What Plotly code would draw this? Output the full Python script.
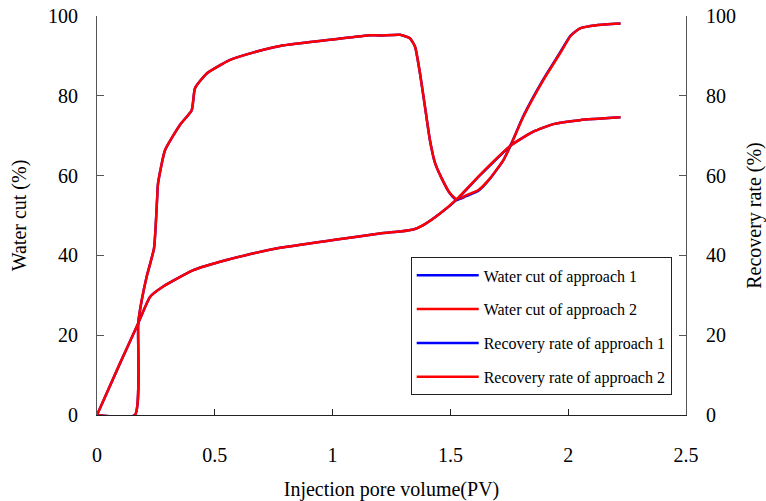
import plotly.graph_objects as go

# ---- data ----
wc_x = [0, 0.161, 0.175, 0.19, 0.211, 0.242, 0.255, 0.259, 0.289, 0.352, 0.402, 0.416,
        0.466, 0.565, 0.678, 0.777, 1.01, 1.16, 1.20, 1.286, 1.328, 1.35, 1.371, 1.392,
        1.413, 1.435, 1.463, 1.498, 1.527, 1.569, 1.619, 1.668, 1.725, 1.76, 1.81, 1.895,
        1.965, 2.01, 2.05, 2.12, 2.222]
wc_1 = [0, 0, 23, 28.8, 34.7, 41.8, 54, 58, 66.4, 72.7, 76.4, 81.9,
        85.6, 89.0, 91.1, 92.5, 94.2, 95.2, 95.1, 95.3, 94.4, 92.3, 85.6, 77.3,
        68.9, 63.1, 59.3, 55.5, 53.9, 54.9, 56.2, 59.2, 63.9, 68.2, 75.0, 84.2,
        90.8, 95.1, 96.9, 97.7, 98.1]
wc_2 = [0, 0, 23, 28.8, 34.7, 41.8, 54, 58, 66.4, 72.7, 76.4, 81.9,
        85.6, 89.0, 91.1, 92.5, 94.2, 95.2, 95.1, 95.3, 94.4, 92.3, 85.6, 77.3,
        68.9, 63.1, 59.3, 55.6, 54.1, 55.1, 56.4, 59.3, 63.9, 68.1, 74.8, 84.0,
        90.6, 95.0, 96.9, 97.7, 98.1]

rr_x = [0, 0.098, 0.175, 0.225, 0.281, 0.409, 0.522, 0.635, 0.777, 1.01, 1.20, 1.286,
        1.343, 1.385, 1.456, 1.527, 1.626, 1.76, 1.852, 1.937, 2.05, 2.222]
rr_1 = [0, 13, 23, 29.6, 32.2, 36.3, 38.4, 40.1, 41.9, 43.9, 45.5, 46.0,
        46.5, 47.6, 50.5, 54.0, 60.1, 67.7, 71.0, 72.9, 73.9, 74.6]
rr_2 = [0, 13, 23, 29.6, 32.2, 36.3, 38.4, 40.1, 41.9, 43.9, 45.5, 46.0,
        46.5, 47.6, 50.5, 54.1, 60.2, 67.7, 71.0, 72.9, 73.9, 74.6]

x_ticks = [0, 0.5, 1, 1.5, 2, 2.5]
y_ticks = [0, 20, 40, 60, 80, 100]

names = ["Water cut of approach 1", "Water cut of approach 2",
         "Recovery rate of approach 1", "Recovery rate of approach 2"]

FONT = "Liberation Serif, Times New Roman, serif"
BLUE = "#0000ff"
RED = "#ff0000"


def line(color):
    return dict(color=color, width=2.5, shape="spline", smoothing=0.5)


fig = go.Figure()
fig.add_trace(go.Scatter(x=wc_x, y=wc_1, mode="lines", name=names[0],
                         line=line(BLUE), legendgroup="a", legendrank=1))
fig.add_trace(go.Scatter(x=rr_x, y=rr_1, mode="lines", name=names[2], yaxis="y2",
                         line=line(BLUE), legendgroup="c", legendrank=3))
fig.add_trace(go.Scatter(x=wc_x, y=wc_2, mode="lines", name=names[1],
                         line=line(RED), legendgroup="b", legendrank=2))
fig.add_trace(go.Scatter(x=rr_x, y=rr_2, mode="lines", name=names[3], yaxis="y2",
                         line=line(RED), legendgroup="d", legendrank=4))

axis_common = dict(showgrid=False, zeroline=False, showline=True, ticks="inside",
                   automargin=False,
                   tickfont=dict(family=FONT, size=20, color="black"))

fig.update_layout(
    width=766, height=501,
    margin=dict(l=97, r=80, t=16, b=86),
    paper_bgcolor="white", plot_bgcolor="white",
    font=dict(family=FONT, color="black"),
    xaxis=dict(range=[0, 2.5], tickvals=x_ticks, ticktext=[str(v) for v in x_ticks],
               linecolor="#222", linewidth=1.2, tickcolor="#222", ticklen=6,
               ticklabelstandoff=22,
               title=dict(text="Injection pore volume(PV)", font=dict(family=FONT, size=20),
                          standoff=17),
               **axis_common),
    yaxis=dict(range=[0, 100], tickvals=y_ticks, ticktext=[str(v) for v in y_ticks],
               linecolor="#555", linewidth=1.2, tickcolor="#555", ticklen=7,
               ticklabelstandoff=14,
               title=dict(text="Water cut (%)", font=dict(family=FONT, size=20)),
               **axis_common),
    yaxis2=dict(range=[0, 100], tickvals=y_ticks, ticktext=[str(v) for v in y_ticks],
                overlaying="y", side="right", anchor="x",
                linecolor="#555", linewidth=1.2, tickcolor="#555", ticklen=7,
                ticklabelstandoff=15,
                title=dict(text="Recovery rate (%)", font=dict(family=FONT, size=20)),
                **axis_common),
    legend=dict(x=0.5326, y=0.395, xanchor="left", yanchor="top",
                bordercolor="#222", borderwidth=1, bgcolor="white",
                font=dict(family=FONT, size=16, color="black"),
                itemwidth=62,
                traceorder="grouped", tracegroupgap=10),
)

fig.write_html("out.html")
